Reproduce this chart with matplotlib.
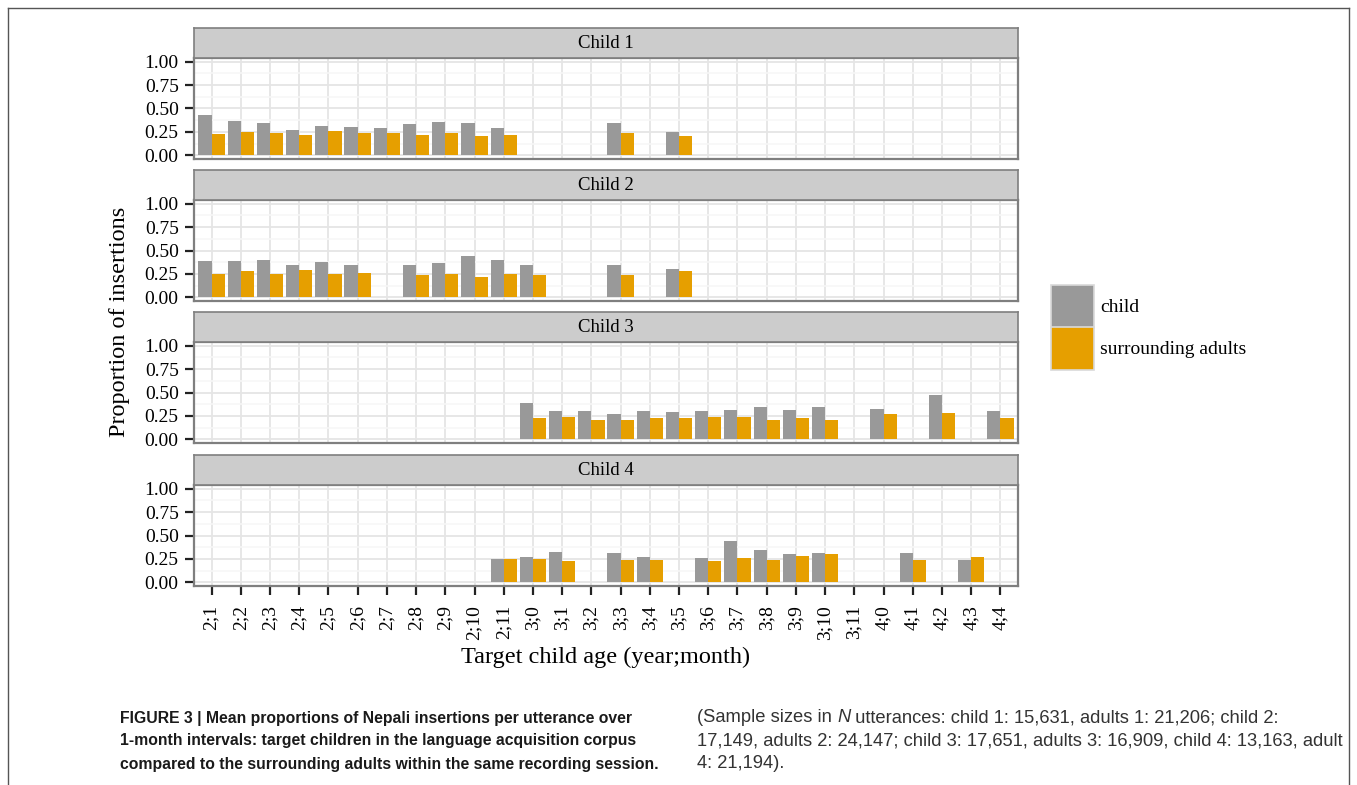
"""Mean proportions of Nepali insertions per utterance, four children vs surrounding adults"""
import numpy as np
import matplotlib
matplotlib.use('Agg')
import matplotlib.pyplot as plt
from matplotlib.patches import Rectangle
from matplotlib.lines import Line2D

nan = np.nan
ages = ['2;1', '2;2', '2;3', '2;4', '2;5', '2;6', '2;7', '2;8', '2;9', '2;10', '2;11',
        '3;0', '3;1', '3;2', '3;3', '3;4', '3;5', '3;6', '3;7', '3;8', '3;9', '3;10', '3;11',
        '4;0', '4;1', '4;2', '4;3', '4;4']
panels = ['Child 1', 'Child 2', 'Child 3', 'Child 4']

child_1 = [0.43, 0.37, 0.34, 0.27, 0.31, 0.30, 0.29, 0.33, 0.36, 0.34, 0.29,
           nan, nan, nan, 0.34, nan, 0.25, nan, nan, nan, nan, nan, nan, nan, nan, nan, nan, nan]
adult_1 = [0.23, 0.25, 0.24, 0.22, 0.26, 0.24, 0.24, 0.22, 0.24, 0.21, 0.22,
           nan, nan, nan, 0.24, nan, 0.21, nan, nan, nan, nan, nan, nan, nan, nan, nan, nan, nan]
child_2 = [0.39, 0.39, 0.40, 0.35, 0.38, 0.34, nan, 0.34, 0.37, 0.44, 0.40,
           0.34, nan, nan, 0.34, nan, 0.30, nan, nan, nan, nan, nan, nan, nan, nan, nan, nan, nan]
adult_2 = [0.25, 0.28, 0.25, 0.29, 0.25, 0.26, nan, 0.24, 0.25, 0.22, 0.25,
           0.24, nan, nan, 0.24, nan, 0.28, nan, nan, nan, nan, nan, nan, nan, nan, nan, nan, nan]
child_3 = [nan, nan, nan, nan, nan, nan, nan, nan, nan, nan, nan,
           0.39, 0.30, 0.30, 0.27, 0.30, 0.29, 0.30, 0.31, 0.34, 0.31, 0.34, nan,
           0.32, nan, 0.47, nan, 0.30]
adult_3 = [nan, nan, nan, nan, nan, nan, nan, nan, nan, nan, nan,
           0.23, 0.24, 0.21, 0.21, 0.23, 0.23, 0.24, 0.24, 0.21, 0.23, 0.21, nan,
           0.27, nan, 0.28, nan, 0.23]
child_4 = [nan, nan, nan, nan, nan, nan, nan, nan, nan, nan, 0.25,
           0.27, 0.32, nan, 0.31, 0.27, nan, 0.26, 0.44, 0.34, 0.30, 0.31, nan,
           nan, 0.31, nan, 0.24, nan]
adult_4 = [nan, nan, nan, nan, nan, nan, nan, nan, nan, nan, 0.25,
           0.25, 0.23, nan, 0.24, 0.24, nan, 0.23, 0.26, 0.24, 0.28, 0.30, nan,
           nan, 0.24, nan, 0.27, nan]
child_vals = [child_1, child_2, child_3, child_4]
adult_vals = [adult_1, adult_2, adult_3, adult_4]
series = ['child', 'surrounding adults']
colors = ['#999999', '#E69F00']

W, H = 1357, 785
plt.rcParams['font.family'] = ['Liberation Serif', 'DejaVu Serif']
fig = plt.figure(figsize=(W / 100, H / 100), dpi=100)

def box(left, top, right, bottom):
    # pixel box -> figure fraction rect
    return [left / W, 1 - bottom / H, (right - left) / W, (bottom - top) / H]

x = np.arange(len(ages))
panel_tops = [58, 200, 342, 485]
for i, name in enumerate(panels):
    top = panel_tops[i]
    ax = fig.add_axes(box(194, top, 1018, top + 101))
    c = np.array(child_vals[i], dtype=float)
    a = np.array(adult_vals[i], dtype=float)
    ok = ~np.isnan(c)
    ax.bar(x[ok] - 0.225, c[ok], width=0.45, color=colors[0], zorder=3)
    ok = ~np.isnan(a)
    ax.bar(x[ok] + 0.225, a[ok], width=0.45, color=colors[1], zorder=3)
    ax.set_xlim(-0.6, len(ages) - 0.4)
    ax.set_ylim(-0.04, 1.04)
    ax.set_yticks([0, 0.25, 0.5, 0.75, 1.0])
    ax.set_yticklabels(['0.00', '0.25', '0.50', '0.75', '1.00'], fontsize=14)
    ax.set_yticks([0.125, 0.375, 0.625, 0.875], minor=True)
    ax.set_xticks(x)
    ax.grid(True, which='major', color='#E5E5E5', linewidth=1.3, zorder=0)
    ax.grid(True, which='minor', axis='y', color='#F7F7F7', linewidth=1.1, zorder=0)
    ax.tick_params(axis='y', which='minor', length=0)
    ax.tick_params(axis='both', which='major', length=6.5, width=1.6, color='#222222', pad=4.5)
    if i < 3:
        ax.tick_params(axis='x', length=0)
        ax.set_xticklabels([])
    else:
        ax.set_xticklabels(ages, rotation=90, fontsize=14)
        ax.tick_params(axis='x', pad=7)
    for sp in ax.spines.values():
        sp.set_color('#7F7F7F')
        sp.set_linewidth(1.6)
    ax.set_axisbelow(True)

    # facet strip
    st = fig.add_axes(box(194, top - 30, 1018, top))
    st.set_facecolor('#CCCCCC')
    st.set_xticks([])
    st.set_yticks([])
    for sp in st.spines.values():
        sp.set_color('#7F7F7F')
        sp.set_linewidth(1.2)
    st.text(0.5, 0.48, name, ha='center', va='center', fontsize=13.5, transform=st.transAxes)

fig.text(120 / W, 1 - 322 / H, 'Proportion of insertions', rotation=90,
         ha='center', va='center', fontsize=17.5)
fig.text(606 / W, 1 - 657 / H, 'Target child age (year;month)',
         ha='center', va='center', fontsize=17.5)

# legend drawn by hand so the keys touch like ggplot's
key_tops = [285, 327]
for k, lab in enumerate(series):
    t = key_tops[k]
    fig.add_artist(Rectangle((1051 / W, 1 - (t + 43) / H), 43 / W, 43 / H,
                             transform=fig.transFigure, facecolor=colors[k],
                             edgecolor='#D9D9D9', linewidth=1.2))
    fig.text(1100 / W, 1 - (t + 22) / H, lab, ha='left', va='center', fontsize=14)

# outer frame
fig.add_artist(Line2D([8 / W, 8 / W], [0, 1 - 8 / H], color='#555555', lw=1))
fig.add_artist(Line2D([1349 / W, 1349 / W], [0, 1 - 8 / H], color='#555555', lw=1))
fig.add_artist(Line2D([8 / W, 1349 / W], [1 - 8 / H, 1 - 8 / H], color='#555555', lw=1))

# caption
sans = ['Liberation Sans', 'DejaVu Sans']
cap = ['FIGURE 3 | Mean proportions of Nepali insertions per utterance over',
       '1-month intervals: target children in the language acquisition corpus',
       'compared to the surrounding adults within the same recording session.']
for k, line in enumerate(cap):
    fig.text(120 / W, 1 - (718 + 23 * k) / H, line, ha='left', va='center',
             fontsize=11.3, fontweight='bold', family=sans, color='#1a1a1a')
t1 = fig.text(697 / W, 1 - 718 / H, '(Sample sizes in ', ha='left', va='center',
              fontsize=13.2, family=sans, color='#333333')
t2 = fig.add_artist(plt.Annotation('N', xy=(1, 0.5), xycoords=t1, ha='left', va='center',
                                   fontsize=13.2, style='italic', family=sans, color='#333333'))
fig.add_artist(plt.Annotation(' utterances: child 1: 15,631, adults 1: 21,206; child 2:',
                              xy=(1, 0.5), xycoords=t2, ha='left', va='center',
                              fontsize=13.2, family=sans, color='#333333'))
rest = ['17,149, adults 2: 24,147; child 3: 17,651, adults 3: 16,909, child 4: 13,163, adult',
        '4: 21,194).']
for k, line in enumerate(rest):
    fig.text(697 / W, 1 - (741 + 23 * k) / H, line, ha='left', va='center',
             fontsize=13.2, family=sans, color='#333333')

fig.savefig('out.png', dpi=100)
